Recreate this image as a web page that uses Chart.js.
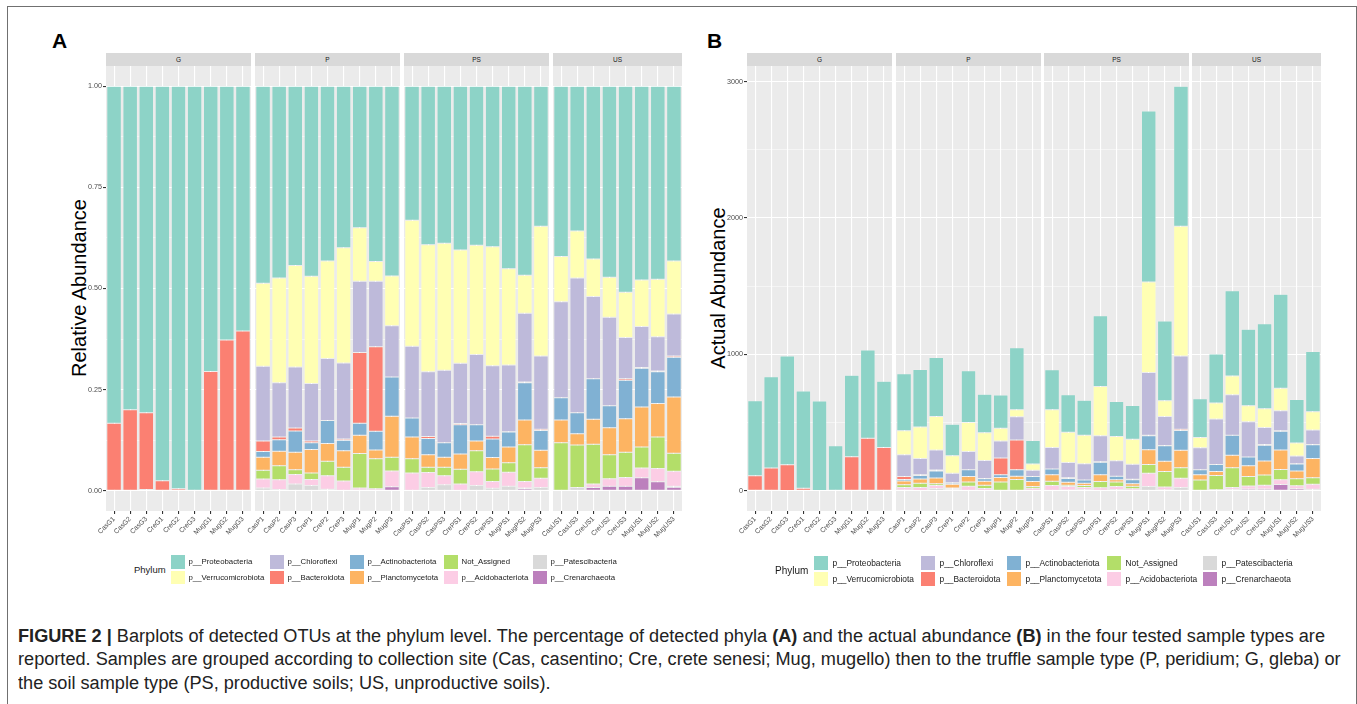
<!DOCTYPE html>
<html><head><meta charset="utf-8">
<script src="https://cdn.jsdelivr.net/npm/chart.js@4.4.1/dist/chart.umd.min.js"></script>
<style>
html,body{margin:0;padding:0;background:#fff;}
body{width:1357px;height:704px;position:relative;overflow:hidden;font-family:"Liberation Sans",Arial,sans-serif;}
canvas{position:absolute;}
.abs{position:absolute;}
.strip{position:absolute;background:#D9D9D9;color:#1A1A1A;font-size:6.5px;text-align:center;line-height:13px;height:13px;top:53px;}
.key{position:absolute;}
.ltxt{position:absolute;color:#1A1A1A;white-space:nowrap;}
.ytitle{position:absolute;font-size:20px;color:#000;white-space:nowrap;transform:translate(-50%,-50%) rotate(-90deg);}
.plabel{position:absolute;font-size:21px;font-weight:bold;color:#000;line-height:21px;}
.cap{position:absolute;left:18px;white-space:nowrap;font-size:18px;line-height:18px;color:#222;transform-origin:0 0;}
</style></head><body>
<div class="abs" style="left:7px;top:6px;width:1348px;height:740px;border:1px solid #707070;"></div>
<div class="plabel" style="left:52px;top:30px;">A</div>
<div class="plabel" style="left:707px;top:30px;">B</div>
<div class="ytitle" style="left:79px;top:288px;">Relative Abundance</div>
<div class="ytitle" style="left:718px;top:288px;">Actual Abundance</div>
<div id="cap1" class="cap" style="top:627px;"><b>FIGURE 2 |</b> Barplots of detected OTUs at the phylum level. The percentage of detected phyla <b>(A)</b> and the actual abundance <b>(B)</b> in the four tested sample types are</div>
<div id="cap2" class="cap" style="top:650px;">reported. Samples are grouped according to collection site (Cas, casentino; Cre, crete senesi; Mug, mugello) then to the truffle sample type (P, peridium; G, gleba) or</div>
<div id="cap3" class="cap" style="top:674px;">the soil sample type (PS, productive soils; US, unproductive soils).</div>
<script>
// ---------------- data ----------------
const phyla = ["p__Proteobacteria","p__Verrucomicrobiota","p__Chloroflexi","p__Bacteroidota","p__Actinobacteriota","p__Planctomycetota","Not_Assigned","p__Acidobacteriota","p__Patescibacteria","p__Crenarchaeota"];
const facetLabels = ["G","P","PS","US"];
const samplesG = ["CasG1","CasG2","CasG3","CreG1","CreG2","CreG3","MugG1","MugG2","MugG3"];
const samplesP = ["CasP1","CasP2","CasP3","CreP1","CreP2","CreP3","MugP1","MugP2","MugP3"];
const samplesPS = ["CasPS1","CasPS2","CasPS3","CrePS1","CrePS2","CrePS3","MugPS1","MugPS2","MugPS3"];
const samplesUS = ["CasUS1","CasUS3","CreUS1","CreUS2","CreUS3","MugUS1","MugUS2","MugUS3"];

// Panel A: relative abundance (samples in order G, P, PS, US)
const relProteobacteria = [0.833,0.800,0.807,0.975,0.995,1.000,0.705,0.627,0.605, 0.487,0.474,0.443,0.470,0.432,0.399,0.350,0.433,0.469, 0.331,0.392,0.388,0.405,0.393,0.397,0.451,0.467,0.346, 0.421,0.358,0.427,0.472,0.509,0.479,0.477,0.432];
const relVerrucomicrobiota = [0,0,0,0,0,0,0,0,0, 0.205,0.259,0.251,0.265,0.241,0.285,0.132,0.049,0.123, 0.312,0.314,0.314,0.280,0.270,0.294,0.238,0.094,0.321, 0.112,0.116,0.093,0.099,0.112,0.115,0.142,0.131];
const relChloroflexi = [0,0,0,0,0,0,0,0,0, 0.185,0.134,0.151,0.142,0.153,0.188,0.176,0.162,0.127, 0.177,0.160,0.179,0.149,0.174,0.174,0.165,0.170,0.181, 0.237,0.333,0.203,0.219,0.102,0.101,0.085,0.104];
const relBacteroidota = [0.167,0.200,0.190,0.025,0.005,0,0.295,0.373,0.395, 0.026,0.007,0.007,0.004,0,0.003,0.175,0.209,0, 0,0.005,0,0.003,0,0.007,0.001,0.002,0.003, 0,0,0,0,0.004,0.002,0.002,0.003];
const relActinobacteriota = [0,0,0.003,0,0,0,0,0,0, 0.014,0.028,0.053,0.017,0.057,0.026,0.030,0.046,0.097, 0.047,0.040,0.036,0.072,0.040,0.046,0.037,0.092,0.049, 0.055,0.052,0.100,0.054,0.095,0.096,0.078,0.098];
const relPlanctomycetota = [0,0,0,0,0,0,0,0,0, 0.032,0.036,0.043,0.058,0.044,0.041,0.045,0.022,0.101, 0.054,0.031,0.025,0.038,0.024,0.028,0.039,0.061,0.043, 0.056,0.028,0.062,0.067,0.083,0.099,0.083,0.139];
const relNotAssigned = [0,0,0,0,0,0,0,0,0, 0.022,0.035,0.012,0.016,0.036,0.034,0.085,0.074,0.034, 0.035,0.013,0.021,0.036,0.052,0.031,0.023,0.091,0.026, 0.119,0.105,0.098,0.059,0.062,0.052,0.078,0.045];
const relAcidobacteriota = [0,0,0,0,0,0,0,0,0, 0.022,0.024,0.023,0.015,0.033,0.024,0.005,0.004,0.039, 0.044,0.037,0.022,0.017,0.034,0.017,0.035,0.016,0.023, 0,0,0.009,0.019,0.022,0.024,0.033,0.037];
const relPatescibacteria = [0,0,0,0,0,0,0,0,0, 0.007,0.003,0.017,0.013,0.002,0,0.002,0.001,0, 0,0.008,0.015,0,0.013,0.006,0.011,0.002,0.008, 0,0.008,0,0,0,0,0,0.002];
const relCrenarchaeota = [0,0,0,0,0,0,0,0,0, 0,0,0,0,0.002,0,0,0,0.010, 0,0,0,0,0,0,0,0.005,0, 0,0,0.008,0.011,0.011,0.032,0.022,0.009];

// Panel B: actual abundance
const absProteobacteria = [550,669,797,713,655,330,598,647,486, 418,422,433,231,379,283,245,455,172, 294,275,256,520,257,248,1255,583,1026, 284,359,625,560,624,689,319,442];
const absVerrucomicrobiota = [0,0,0,0,0,0,0,0,0, 176,231,245,129,212,202,93,51,45, 277,221,208,360,177,184,663,117,952, 75,116,136,117,137,166,95,134];
const absChloroflexi = [0,0,0,0,0,0,0,0,0, 159,119,148,69,135,133,124,170,47, 157,113,119,191,114,109,460,211,537, 160,334,298,259,125,146,57,106];
const absBacteroidota = [110,167,188,18,3,0,250,385,318, 22,6,7,2,0,2,123,219,0, 0,4,0,4,0,4,3,2,9, 0,0,0,0,5,3,1,3];
const absActinobacteriota = [0,0,3,0,0,0,0,0,0, 12,25,52,8,50,18,21,48,36, 42,28,24,92,26,29,103,114,145, 37,52,147,64,116,138,52,100];
const absPlanctomycetota = [0,0,0,0,0,0,0,0,0, 27,32,42,28,39,29,32,23,37, 48,22,17,49,16,18,109,76,128, 38,28,91,79,102,143,56,142];
const absNotAssigned = [0,0,0,0,0,0,0,0,0, 19,31,12,8,32,24,60,78,13, 31,9,14,46,34,19,64,113,77, 80,105,144,70,76,75,52,46];
const absAcidobacteriota = [0,0,0,0,0,0,0,0,0, 19,21,22,7,29,17,4,4,14, 39,26,15,22,22,11,97,20,68, 0,0,13,22,27,35,22,38];
const absPatescibacteria = [0,0,0,0,0,0,0,0,0, 6,3,17,6,2,0,1,1,0, 0,6,10,0,9,4,31,2,24, 0,8,0,0,0,0,0,2];
const absCrenarchaeota = [0,0,0,0,0,0,0,0,0, 0,0,0,0,2,0,0,0,4, 0,0,0,0,0,0,0,6,0, 0,0,12,13,13,46,15,9];

// axis ticks (labelled major ticks, unlabelled minor grid ticks)
const yTicksA = [0, 0.25, 0.5, 0.75, 1];
const yMinorA = [0.125, 0.375, 0.625, 0.875];
const yTicksB = [0, 1000, 2000, 3000];
const yMinorB = [500, 1500, 2500];

// ---------------- styling / layout ----------------
const phylumColors = ["#8DD3C7","#FFFFB3","#BEBADA","#FB8072","#80B1D3","#FDB462","#B3DE69","#FCCDE5","#D9D9D9","#BC80BD"];
const FONT = "Liberation Sans";
const facetSamples = [samplesG, samplesP, samplesPS, samplesUS];
const relSeries = [relProteobacteria, relVerrucomicrobiota, relChloroflexi, relBacteroidota, relActinobacteriota, relPlanctomycetota, relNotAssigned, relAcidobacteriota, relPatescibacteria, relCrenarchaeota];
const absSeries = [absProteobacteria, absVerrucomicrobiota, absChloroflexi, absBacteroidota, absActinobacteriota, absPlanctomycetota, absNotAssigned, absAcidobacteriota, absPatescibacteria, absCrenarchaeota];

const panelBg = { id:'panelBg', beforeDraw(chart){ const {ctx, chartArea:a} = chart; ctx.save(); ctx.fillStyle='#EBEBEB'; ctx.fillRect(a.left, a.top, a.right-a.left, a.bottom-a.top); ctx.restore(); } };

const PLOT_TOP = 66, PLOT_H = 445, PAD_T = 10, PAD_L = 40, PAD_R = 6, X_H = 50, Y_W = 36;

function facetChart(plotL, plotR, fIdx, series, yMin, yMax, majorTicks, minorTicks, fmt) {
  const first = fIdx === 0;
  const start = facetSamples.slice(0, fIdx).reduce((s, a) => s + a.length, 0);
  const labels = facetSamples[fIdx];
  const end = start + labels.length;
  const w = plotR - plotL + PAD_L + PAD_R, h = PAD_T + PLOT_H + X_H;
  const c = document.createElement('canvas');
  c.width = w; c.height = h;
  c.style.left = (plotL - PAD_L) + 'px'; c.style.top = (PLOT_TOP - PAD_T) + 'px';
  c.style.width = w + 'px'; c.style.height = h + 'px';
  document.body.appendChild(c);
  const s = document.createElement('div');
  s.className = 'strip'; s.style.left = plotL + 'px'; s.style.width = (plotR - plotL) + 'px';
  s.textContent = facetLabels[fIdx];
  document.body.appendChild(s);
  const isMajor = v => majorTicks.some(m => Math.abs(m - v) < 1e-9);
  const allTicks = majorTicks.concat(minorTicks).sort((a, b) => a - b);
  const datasets = [];
  for (let i = phyla.length - 1; i >= 0; i--) {
    datasets.push({
      label: phyla[i],
      data: series[i].slice(start, end),
      backgroundColor: phylumColors[i],
      borderColor: 'rgba(255,255,255,0.35)',
      borderWidth: ctx => (ctx.raw > 0 ? 0.5 : 0),
      borderSkipped: false,
      barPercentage: 0.9,
      categoryPercentage: 1.0
    });
  }
  new Chart(c, {
    type: 'bar',
    data: { labels, datasets },
    options: {
      responsive: false, animation: false, devicePixelRatio: 1,
      layout: { padding: { left: first ? PAD_L - Y_W : PAD_L, right: PAD_R, top: PAD_T, bottom: 0 } },
      plugins: { legend: { display: false }, tooltip: { enabled: false } },
      scales: {
        x: {
          stacked: true, offset: true,
          grid: { offset: false, color: '#FFFFFF', lineWidth: 1.1, tickColor: '#333333', tickLength: 3, drawTicks: true },
          border: { display: false },
          ticks: { autoSkip: false, minRotation: 45, maxRotation: 45, padding: 1, color: '#4D4D4D', font: { family: FONT, size: 6.8 } },
          afterFit: sc => { sc.height = X_H; }
        },
        y: {
          stacked: true, min: yMin, max: yMax,
          afterBuildTicks: sc => { sc.ticks = allTicks.map(v => ({ value: v })); },
          grid: {
            color: '#FFFFFF',
            lineWidth: ctx => (ctx.tick && isMajor(ctx.tick.value) ? 1.1 : 0.5),
            tickColor: ctx => (ctx.tick && isMajor(ctx.tick.value) ? '#333333' : 'rgba(0,0,0,0)'),
            tickLength: 3, drawTicks: first
          },
          border: { display: false },
          ticks: {
            display: first, autoSkip: false, padding: 1,
            color: '#4D4D4D', font: { family: FONT, size: 7.2 },
            callback: v => (isMajor(v) ? fmt(v) : '')
          },
          afterFit: sc => { sc.width = first ? Y_W : 0; }
        }
      }
    },
    plugins: [panelBg]
  });
}

const facetXA = [[106,251],[255,400],[404,549],[553,682]];
const facetXB = [[747,892],[896,1041],[1044,1189],[1192,1321]];
for (let f = 0; f < 4; f++) {
  facetChart(facetXA[f][0], facetXA[f][1], f, relSeries, -0.05, 1.05, yTicksA, yMinorA, v => v.toFixed(2));
  facetChart(facetXB[f][0], facetXB[f][1], f, absSeries, -148, 3114, yTicksB, yMinorB, v => String(v));
}

// legends
function legend(titleX, cols, rows, keySize, txtOff, fontSize, titleSize) {
  const t = document.createElement('div');
  t.className = 'ltxt'; t.textContent = 'Phylum';
  t.style.left = titleX + 'px'; t.style.top = (rows[0] + (rows[1] + keySize - rows[0]) / 2 - titleSize * 0.6) + 'px';
  t.style.fontSize = titleSize + 'px'; t.style.lineHeight = (titleSize * 1.2) + 'px';
  document.body.appendChild(t);
  phyla.forEach((p, i) => {
    const col = Math.floor(i / 2), row = i % 2;
    const k = document.createElement('div');
    k.className = 'key';
    k.style.left = cols[col] + 'px'; k.style.top = rows[row] + 'px';
    k.style.width = keySize + 'px'; k.style.height = keySize + 'px';
    k.style.background = phylumColors[i];
    document.body.appendChild(k);
    const l = document.createElement('div');
    l.className = 'ltxt'; l.textContent = p;
    l.style.left = (cols[col] + txtOff) + 'px'; l.style.top = rows[row] + 'px';
    l.style.fontSize = fontSize + 'px'; l.style.lineHeight = keySize + 'px';
    document.body.appendChild(l);
  });
}
legend(134, [171, 270, 350, 444, 533], [555, 570.5], 13.5, 17.5, 7.8, 9.5);
legend(775, [814, 921, 1007, 1107, 1203], [556, 572], 14, 18.5, 8.4, 10);

// caption width fit
const cap1 = document.getElementById('cap1');
const sc = 1307 / cap1.getBoundingClientRect().width;
['cap1','cap2','cap3'].forEach(id => { document.getElementById(id).style.transform = 'scaleX(' + sc + ')'; });
</script>
</body></html>
